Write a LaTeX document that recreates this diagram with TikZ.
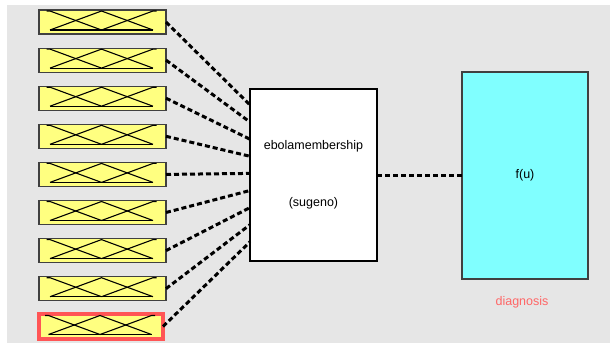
\documentclass[tikz,border=0pt]{standalone}
\usepackage{fontspec}
\setmainfont{Liberation Sans}
\usetikzlibrary{calc}
\definecolor{bg}{HTML}{E6E6E6}
\definecolor{mfyellow}{HTML}{FFFF80}
\definecolor{mfcyan}{HTML}{80FFFF}
\definecolor{selred}{HTML}{FF5555}
\definecolor{labred}{HTML}{FF6666}
\definecolor{edgegray}{HTML}{404040}
\begin{document}
\begin{tikzpicture}[x=1pt,y=-1pt,
  inbox/.style={draw=edgegray, line width=1.2pt, fill=mfyellow, minimum width=127pt, minimum height=24pt, inner sep=0pt, outer sep=0pt},
  selbox/.style={draw=selred, line width=4pt, fill=mfyellow, minimum width=124pt, minimum height=25pt, inner sep=0pt, outer sep=0pt},
  mfline/.style={line width=1.1pt, black},
  conn/.style={line width=3pt, dash pattern=on 5pt off 3pt, black},
  bigbox/.style={line width=1.8pt, inner sep=0pt, outer sep=0pt, font=\fontsize{12.5}{14}\selectfont, align=center},
  lab/.style={font=\fontsize{12.5}{14}\selectfont, inner sep=0pt}]
\useasboundingbox (0,0) rectangle (610,343);
\fill[white] (0,0) rectangle (610,343);
\fill[bg] (7,5) rectangle (610,343);
% input membership boxes
\foreach \i in {1,...,8}{
  \node[inbox] (in\i) at (102.5,{22+38.1*(\i-1)}) {};
}
\node[selbox] (in9) at (101,326.5) {};
\foreach \i in {1,...,9}{
  \path (in\i.center) coordinate (c);
  \draw[mfline] ($(c)+(-52.5,8)$) -- ($(c)+(50.5,8)$);
  \draw[mfline] ($(c)+(-56,-11)$) -- ($(c)+(-52.5,-11)$) -- ($(c)+(-1,8)$);
  \draw[mfline] ($(c)+(-52.5,8)$) -- ($(c)+(-1,-11)$) -- ($(c)+(50.5,8)$);
  \draw[mfline] ($(c)+(-1,8)$) -- ($(c)+(50.5,-11)$) -- ($(c)+(54,-11)$);
}
% main box
\node[bigbox, draw=black, fill=white, minimum width=127pt, minimum height=172pt] (main) at (313.5,175)
  {ebolamembership\\[43pt](sugeno)};
% output box
\node[bigbox, line width=1.4pt, draw=edgegray, fill=mfcyan, minimum width=126pt, minimum height=207pt] (out) at (525,175.5) {f(u)};
\node[lab, text=labred] (diag) at (522,302) {diagnosis};
% connectors
\foreach \i in {1,...,9}{
  \coordinate (p\i) at ($(main.north west)!{(16+17.1*(\i-1))/172}!(main.south west)$);
  \draw[conn] (in\i.east) -- (p\i);
}
\draw[conn] (main.east) -- (main.east -| out.west);
\end{tikzpicture}
\end{document}
